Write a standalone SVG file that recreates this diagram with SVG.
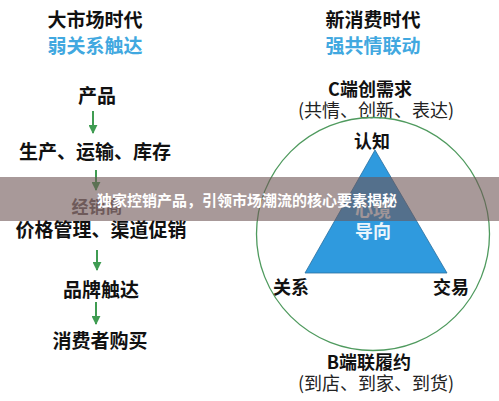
<svg xmlns="http://www.w3.org/2000/svg" width="499" height="401" viewBox="0 0 499 401">
<style>
text{font-family:"Noto Sans CJK SC","Noto Sans",sans-serif;text-anchor:middle}
.h{font-size:19px;font-weight:700;fill:#111}
.b{font-size:19px;font-weight:700;fill:#41a8e0}
.t{font-size:18px;font-weight:700;fill:#111}
.n{font-size:18px;font-weight:400;fill:#222}
.w{font-size:18px;font-weight:700;fill:#eaf5fc}
.ar{stroke:#3f9c52;stroke-width:2;fill:none}
</style>
<defs>
<marker id="ah" viewBox="0 0 10 10" refX="9" refY="5" markerWidth="4.5" markerHeight="4.5" orient="auto"><path d="M0,0 L10,5 L0,10 z" fill="#3f9c52"/></marker>
</defs>
<rect width="499" height="401" fill="#fff"/>
<g id="left-title"><text class="h" x="95" y="27">大市场时代</text><text class="b" x="95" y="53">弱关系触达</text></g>
<g id="right-title"><text class="h" x="373" y="27">新消费时代</text><text class="b" x="373" y="53">强共情联动</text></g>
<g id="n-product"><text class="h" x="97" y="103">产品</text></g>
<g id="n-production"><text class="h" x="95" y="159">生产、运输、库存</text></g>
<g id="n-dealer"><text style="font-size:17px;font-weight:700;fill:#6e6262" x="97" y="213">经销商</text></g>
<g id="n-price"><text class="h" x="101" y="237">价格管理、渠道促销</text></g>
<g id="n-brand"><text class="h" x="101" y="297">品牌触达</text></g>
<g id="n-buy"><text class="h" x="100" y="348">消费者购买</text></g>
<g id="connectors">
<line class="ar" x1="93" y1="111" x2="93" y2="133" marker-end="url(#ah)"/>
<line class="ar" x1="96" y1="170" x2="96" y2="190" marker-end="url(#ah)"/>
<line class="ar" x1="97" y1="250" x2="97" y2="270" marker-end="url(#ah)"/>
<line class="ar" x1="96" y1="302" x2="96" y2="324" marker-end="url(#ah)"/>
</g>
<g id="c-end"><text class="t" x="370" y="96">C端创需求</text><text class="n" x="376" y="117">(共情、创新、表达)</text></g>
<g id="circle"><circle cx="373" cy="234" r="116.5" fill="none" stroke="#4f9a5e" stroke-width="1.3"/></g>
<g id="triangle"><polygon points="375,150 305,273 447,273" fill="#2f9ade" stroke="#2a6f9e" stroke-width="0.8"/>
<text class="w" x="373" y="217">心境</text><text class="w" x="373" y="238">导向</text></g>
<g id="n-cognition"><text class="t" x="372" y="148">认知</text></g>
<g id="n-relation"><text class="t" x="291" y="294">关系</text></g>
<g id="n-trade"><text class="t" x="451" y="294">交易</text></g>
<g id="b-end"><text class="t" x="369" y="369">B端联履约</text><text class="n" x="376" y="390">(到店、到家、到货)</text></g>
<g id="banner">
<rect x="0" y="177" width="499" height="44" fill="rgb(110,85,85)" fill-opacity="0.6"/>
<text x="97" y="206" style="text-anchor:start;font-size:15px;font-weight:700;fill:#fff">独家控销产品，引领市场潮流的核心要素揭秘</text>
</g>
</svg>
